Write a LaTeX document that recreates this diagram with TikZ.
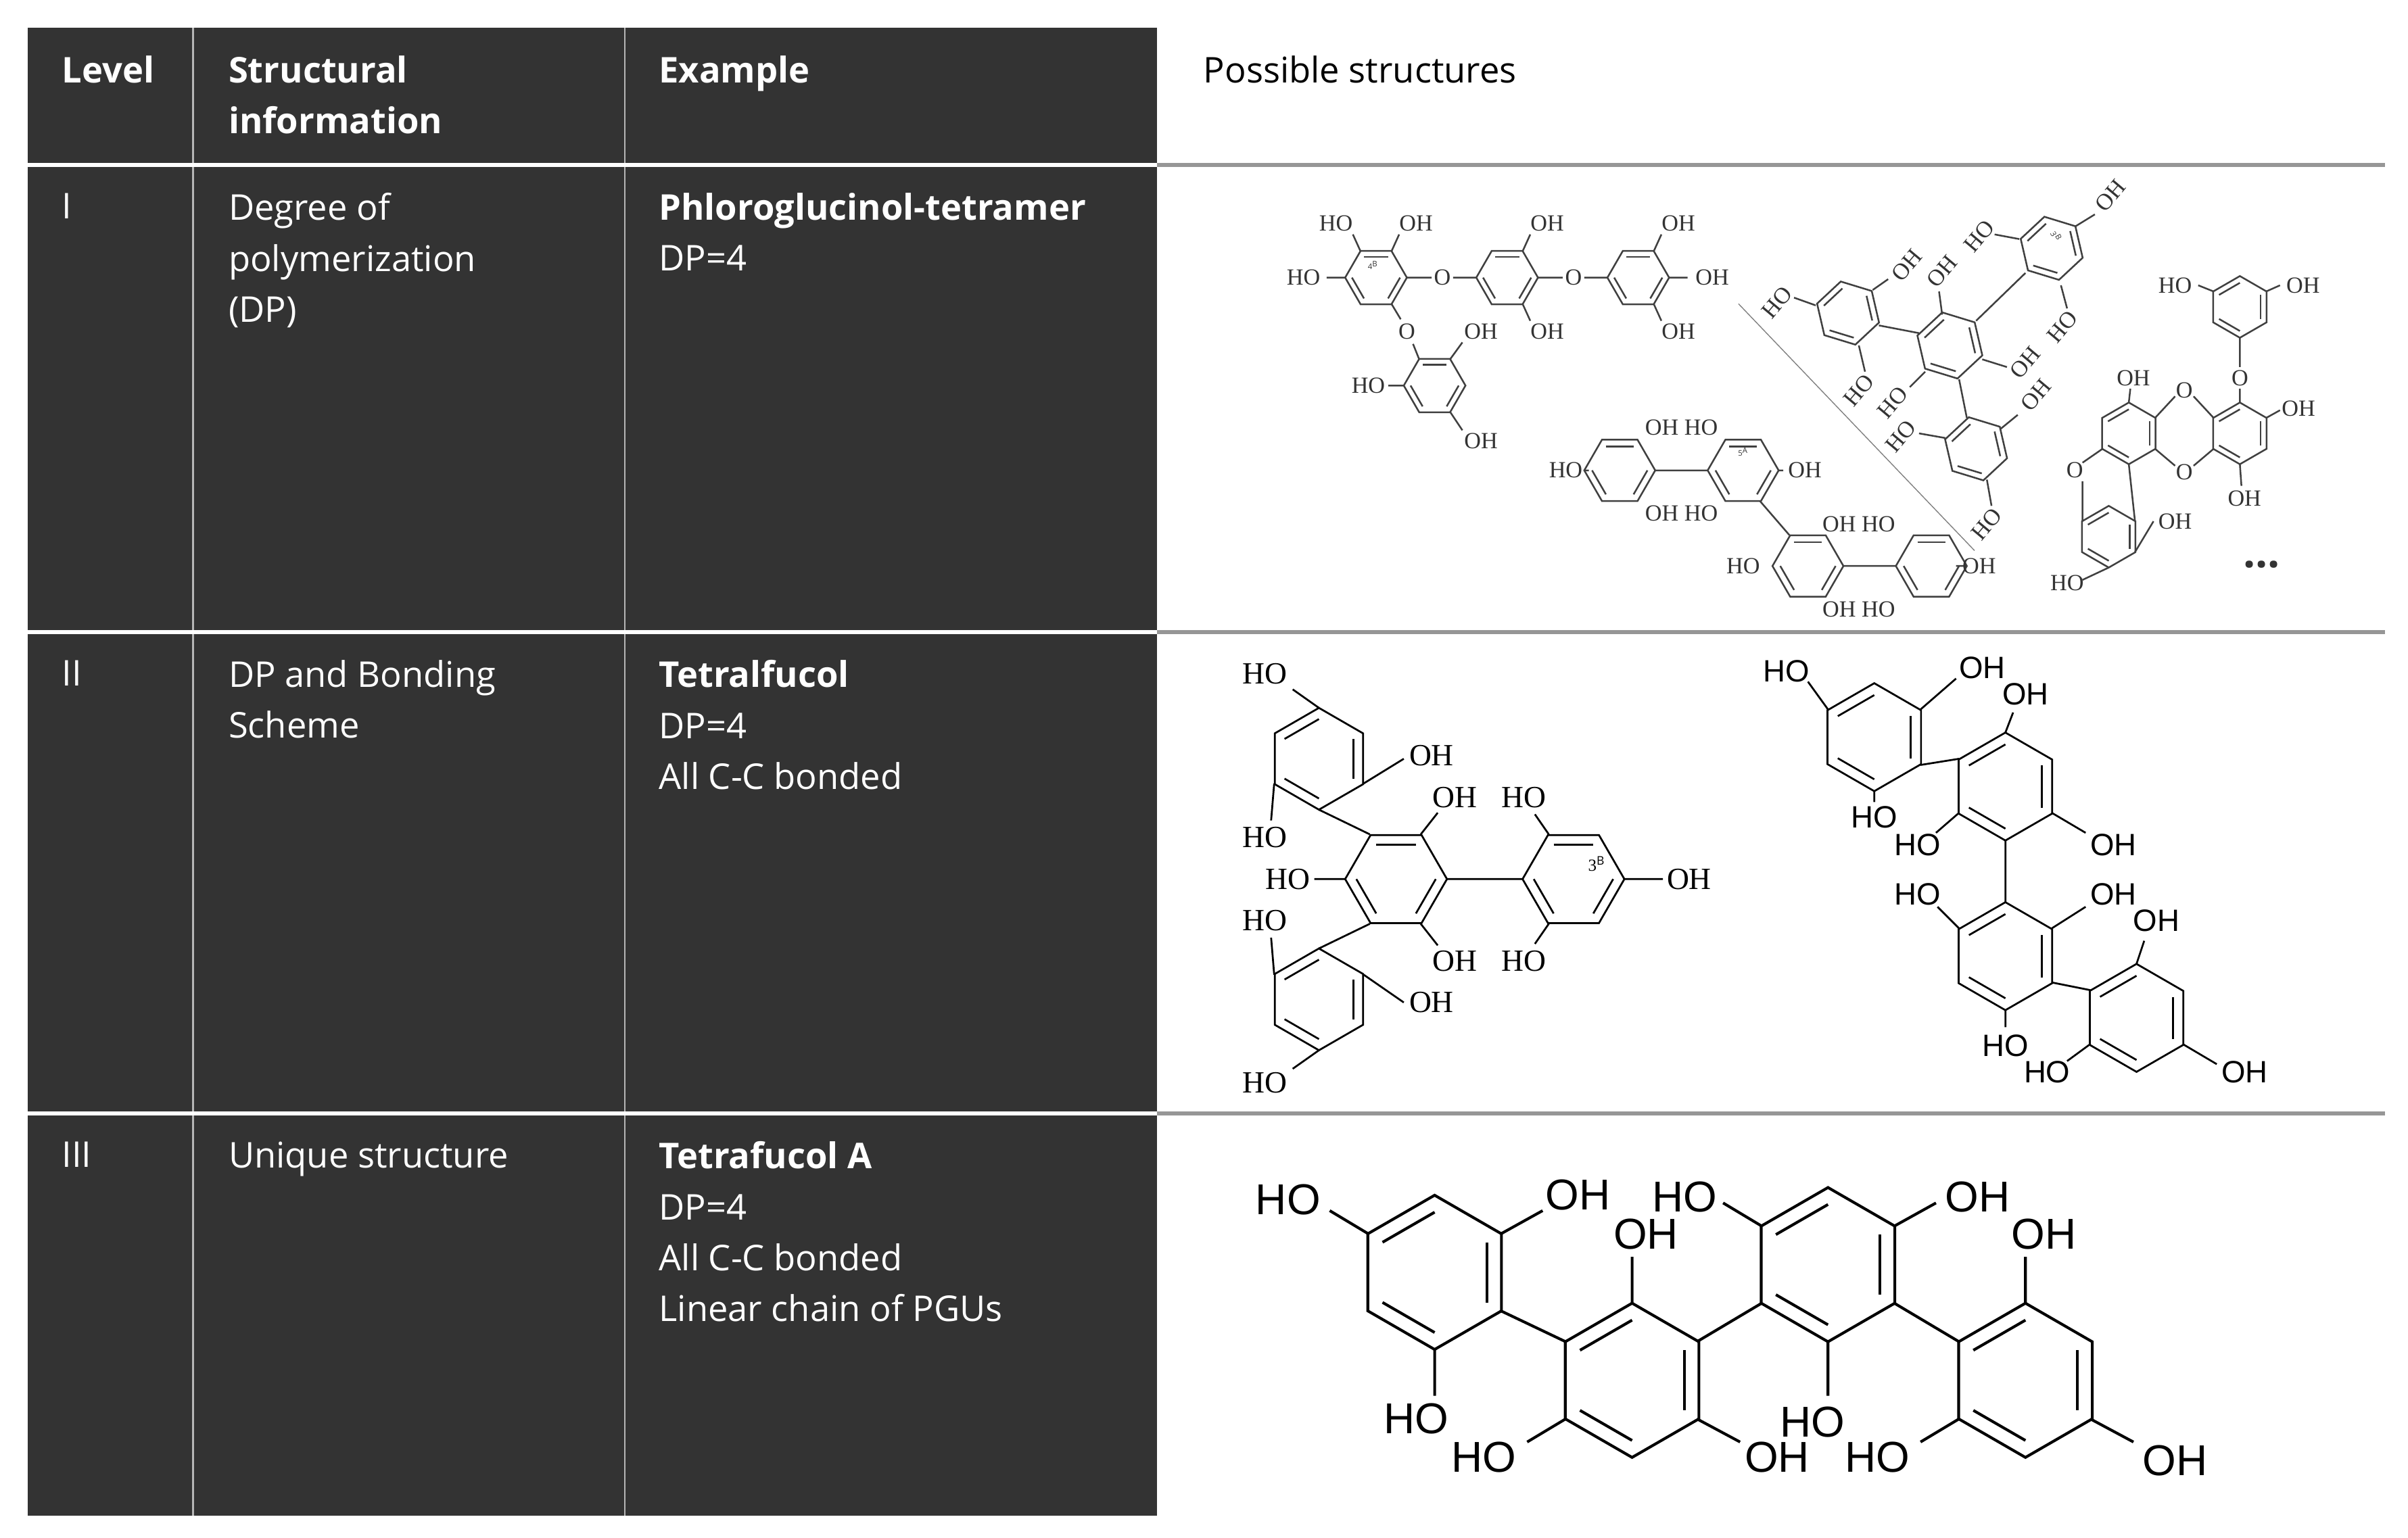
\documentclass[tikz,border=0pt]{standalone}
\usepackage{fontspec}
\setmainfont{Open Sans}
\newfontfamily\chemserif{Liberation Serif}
\newfontfamily\chemsans{Liberation Sans}
\usetikzlibrary{calc}
\definecolor{darkbg}{RGB}{51,51,51}
\definecolor{sepgray}{RGB}{150,150,150}
\newcommand\hexa[4][0]{%
  \draw ($(#2,#3)+(90+#1:#4)$) \foreach \a in {150,210,270,330,390} { -- ($(#2,#3)+(\a+#1:#4)$)} -- cycle;
  \foreach \a in {90,210,330} {\draw ($(#2,#3)+(\a+#1:0.78*#4)$) -- ($(#2,#3)+(\a+60+#1:0.78*#4)$);}}
\begin{document}
\begin{tikzpicture}[x=1pt,y=-1pt,
  hd/.style={anchor=north west,inner sep=0pt,text=white,align=left,font=\fontsize{23}{33}\selectfont\bfseries},
  tx/.style={anchor=north west,inner sep=0pt,text=white,align=left,font=\fontsize{23}{33}\selectfont},
  sl/.style={inner sep=0pt,font=\chemserif\fontsize{15}{15}\selectfont},
  ml/.style={inner sep=0pt,font=\chemserif\fontsize{20}{20}\selectfont},
  bl/.style={inner sep=0pt,font=\chemsans\fontsize{20}{20}\selectfont},
  gl/.style={inner sep=0pt,font=\chemsans\fontsize{28}{28}\selectfont}]
\useasboundingbox (0,0) rectangle (1561,997);
\fill[white] (0,0) rectangle (1561,997);
\fill[darkbg] (18,18) rectangle (750,983);
\draw[sepgray!70,line width=1.2] (125,18) -- (125,983) (405,18) -- (405,983);
\foreach \y in {107,410,722}{
  \draw[white,line width=2.5] (18,\y) -- (750,\y);
  \draw[sepgray,line width=2.5] (750,\y) -- (1546,\y);}
% header
\node[hd] (h1) at (40,36) {Level};
\node[hd] (h2) at (148,36) {Structural\\information};
\node[hd] (h3) at (427,36) {Example};
\node[anchor=north west,inner sep=0pt,font=\fontsize{23}{33}\selectfont] (h4) at (780,36) {Possible structures};
% rows
\node[tx] (l1) at (40,125) {I};
\node[tx] (s1) at (148,125) {Degree of\\polymerization\\(DP)};
\node[tx] (e1) at (427,125) {\textbf{Phloroglucinol-tetramer}\\DP=4};
\node[tx] (l2) at (40,428) {II};
\node[tx] (s2) at (148,428) {DP and Bonding\\Scheme};
\node[tx] (e2) at (427,428) {\textbf{Tetralfucol}\\DP=4\\All C-C bonded};
\node[tx] (l3) at (40,740) {III};
\node[tx] (s3) at (148,740) {Unique structure};
\node[tx] (e3) at (427,740) {\textbf{Tetrafucol A}\\DP=4\\All C-C bonded\\Linear chain of PGUs};
% ===== Row 1 =====
\begin{scope}[line width=1.1,draw=black!75,text=black!80]
% structure a
\hexa[30]{892}{180}{20} \hexa[30]{977}{180}{20} \hexa[30]{1062}{180}{20} \hexa[30]{930}{250}{20}
\draw (882,163)--(877,152) (902,163)--(907,152) (872,180)--(860,180) (912,180)--(928,180) (942,180)--(957,180)
 (987,163)--(992,152) (987,197)--(992,208) (997,180)--(1013,180) (1027,180)--(1042,180)
 (1072,163)--(1077,152) (1082,180)--(1094,180) (1072,197)--(1077,208)
 (902,197)--(908,207) (916,223)--(920,233) (940,233)--(948,222) (910,250)--(900,250) (940,267)--(948,279);
\node[sl] at (866,145) {HO}; \node[sl] at (918,145) {OH}; \node[sl] at (845,180) {HO};
\node[sl] at (935,180) {O}; \node[sl] at (1003,145) {OH}; \node[sl] at (1003,215) {OH};
\node[sl] at (1020,180) {O}; \node[sl] at (1088,145) {OH}; \node[sl] at (1110,180) {OH};
\node[sl] at (1088,215) {OH}; \node[sl] at (912,215) {O}; \node[sl] at (960,215) {OH};
\node[sl] at (887,250) {HO}; \node[sl] at (960,286) {OH};
\node[font=\fontsize{5}{5}\selectfont] at (890,172) {4$^{\mathrm B}$};
% structure c
\hexa[30]{1050}{305}{23} \hexa[30]{1130}{305}{23} \hexa[30]{1172}{367}{23} \hexa[30]{1252}{367}{23}
\draw (1073,305)--(1107,305) (1195,367)--(1229,367) (1141,325)--(1160,347)
 (1027,305)--(1030,305) (1153,305)--(1156,305) (1275,367)--(1268,367);
\node[sl] at (1015,305) {HO}; \node[sl] at (1090,277) {OH HO}; \node[sl] at (1170,305) {OH};
\node[sl] at (1090,333) {OH HO}; \node[sl] at (1205,340) {OH HO}; \node[sl] at (1130,367) {HO};
\node[sl] at (1283,367) {OH}; \node[sl] at (1205,395) {OH HO};
\node[font=\fontsize{5}{5}\selectfont] at (1130,293) {5$^{\mathrm A}$};
% structure b
\draw[line width=0.6,black!50] (1127,197) -- (1280,357);
\hexa[-13]{1198}{203}{21} \hexa[-13]{1264}{224}{22} \hexa[-13]{1330}{161}{21} \hexa[-13]{1281}{291}{21}
\draw (1218,211)--(1244,216) (1281,208)--(1313,177) (1270,246)--(1275,271)
 (1177,198)--(1163,193) (1214,188)--(1224,181) (1259,204)--(1257,189)
 (1309,155)--(1293,152) (1345,147)--(1358,139) (1336,185)--(1340,200)
 (1285,233)--(1301,238) (1248,241)--(1238,251) (1205,224)--(1209,241)
 (1261,284)--(1244,281) (1297,278)--(1308,269) (1288,311)--(1291,328);
\foreach \x/\y/\t in {1152/196/HO,1236/172/OH,1259/176/OH,1283/153/HO,1368/127/OH,1337/212/HO,1313/235/OH,1205/253/HO,1227/261/HO,1320/256/OH,1232/283/HO,1288/340/HO}
  {\node[sl,rotate=50] at (\x,\y) {\t};}
\node[font=\fontsize{5}{5}\selectfont,rotate=-60] at (1333,153) {3$^{\mathrm B}$};
% structure d
\hexa{1452}{199}{20} \hexa{1452}{281}{20} \hexa{1380}{281}{20} \hexa{1367}{348}{20}
\draw (1452,219)--(1452,238) (1452,252)--(1452,261) (1435,189)--(1425,185) (1469,189)--(1478,185)
 (1397,271)--(1410,257) (1422,257)--(1435,271) (1397,291)--(1410,302) (1422,302)--(1435,291)
 (1363,291)--(1350,300) (1350,312)--(1350,338) (1380,301)--(1384,338)
 (1380,261)--(1381,252) (1469,271)--(1478,266) (1452,301)--(1453,315) (1384,358)--(1396,338) (1367,368)--(1350,376);
\node[sl] at (1410,185) {HO}; \node[sl] at (1493,185) {OH}; \node[sl] at (1452,245) {O};
\node[sl] at (1383,245) {OH}; \node[sl] at (1490,265) {OH}; \node[sl] at (1416,253) {O};
\node[sl] at (1416,306) {O}; \node[sl] at (1345,305) {O}; \node[sl] at (1455,323) {OH};
\node[sl] at (1410,338) {OH}; \node[sl] at (1340,378) {HO};
\node[font=\bfseries\fontsize{28}{28}\selectfont] at (1466,366) {...};
\end{scope}
% ===== Row 2 left =====
\begin{scope}[line width=1.2]
\hexa{855}{492}{33} \hexa[30]{905}{570}{33} \hexa{855}{648}{33} \hexa[30]{1020}{570}{33}
\draw (855,525)--(888,541) (855,615)--(888,599) (938,570)--(987,570)
 (855,459)--(838,447) (884,508)--(910,492) (826,508)--(824,532)
 (921,541)--(932,527) (872,570)--(852,570) (921,599)--(932,613)
 (1004,541)--(995,528) (1004,599)--(995,612) (1053,570)--(1078,570)
 (826,632)--(824,608) (884,632)--(910,650) (855,681)--(838,693);
\node[ml] at (820,437) {HO}; \node[ml] at (928,490) {OH}; \node[ml] at (820,543) {HO};
\node[ml] at (943,517) {OH}; \node[ml] at (988,517) {HO}; \node[ml] at (835,570) {HO};
\node[ml] at (1095,570) {OH}; \node[ml] at (820,597) {HO}; \node[ml] at (943,623) {OH};
\node[ml] at (988,623) {HO}; \node[ml] at (928,650) {OH}; \node[ml] at (820,702) {HO};
\node[font=\chemserif\fontsize{11}{11}\selectfont] at (1035,560) {3$^{\mathrm B}$};
% Row 2 right
\hexa{1215}{478}{35} \hexa{1300}{510}{35} \hexa{1300}{620}{35} \hexa{1385}{660}{35}
\draw (1245,496)--(1270,492) (1300,545)--(1300,585) (1330,637)--(1355,642)
 (1185,460)--(1172,442) (1245,460)--(1268,440) (1215,513)--(1215,520)
 (1300,475)--(1305,462) (1270,527)--(1255,540) (1330,527)--(1352,540)
 (1270,602)--(1256,588) (1330,602)--(1352,588) (1300,655)--(1300,666)
 (1385,625)--(1390,610) (1355,677)--(1340,688) (1415,677)--(1437,690);
\node[bl] at (1158,435) {HO}; \node[bl] at (1285,433) {OH}; \node[bl] at (1215,530) {HO};
\node[bl] at (1313,450) {OH}; \node[bl] at (1243,548) {HO}; \node[bl] at (1370,548) {OH};
\node[bl] at (1243,580) {HO}; \node[bl] at (1370,580) {OH}; \node[bl] at (1300,678) {HO};
\node[bl] at (1398,597) {OH}; \node[bl] at (1327,695) {HO}; \node[bl] at (1455,695) {OH};
\end{scope}
% ===== Row 3 =====
\begin{scope}[line width=1.8]
\hexa{930}{825}{50} \hexa{1058}{895}{50} \hexa{1185}{820}{50} \hexa{1313}{895}{50}
\draw (973,850)--(1015,870) (1100,870)--(1142,845) (1228,845)--(1270,870)
 (887,800)--(862,785) (973,800)--(1000,785) (930,875)--(930,905)
 (1058,845)--(1058,815) (1015,920)--(990,935) (1100,920)--(1128,935)
 (1142,795)--(1117,780) (1228,795)--(1255,780) (1185,870)--(1185,905)
 (1313,845)--(1313,815) (1270,920)--(1245,935) (1355,920)--(1383,935);
\node[gl] at (835,778) {HO}; \node[gl] at (1023,775) {OH}; \node[gl] at (918,920) {HO};
\node[gl] at (1067,800) {OH}; \node[gl] at (962,945) {HO}; \node[gl] at (1152,945) {OH};
\node[gl] at (1092,776) {HO}; \node[gl] at (1282,776) {OH}; \node[gl] at (1175,922) {HO};
\node[gl] at (1325,800) {OH}; \node[gl] at (1217,945) {HO}; \node[gl] at (1410,947) {OH};
\end{scope}
\end{tikzpicture}
\end{document}
